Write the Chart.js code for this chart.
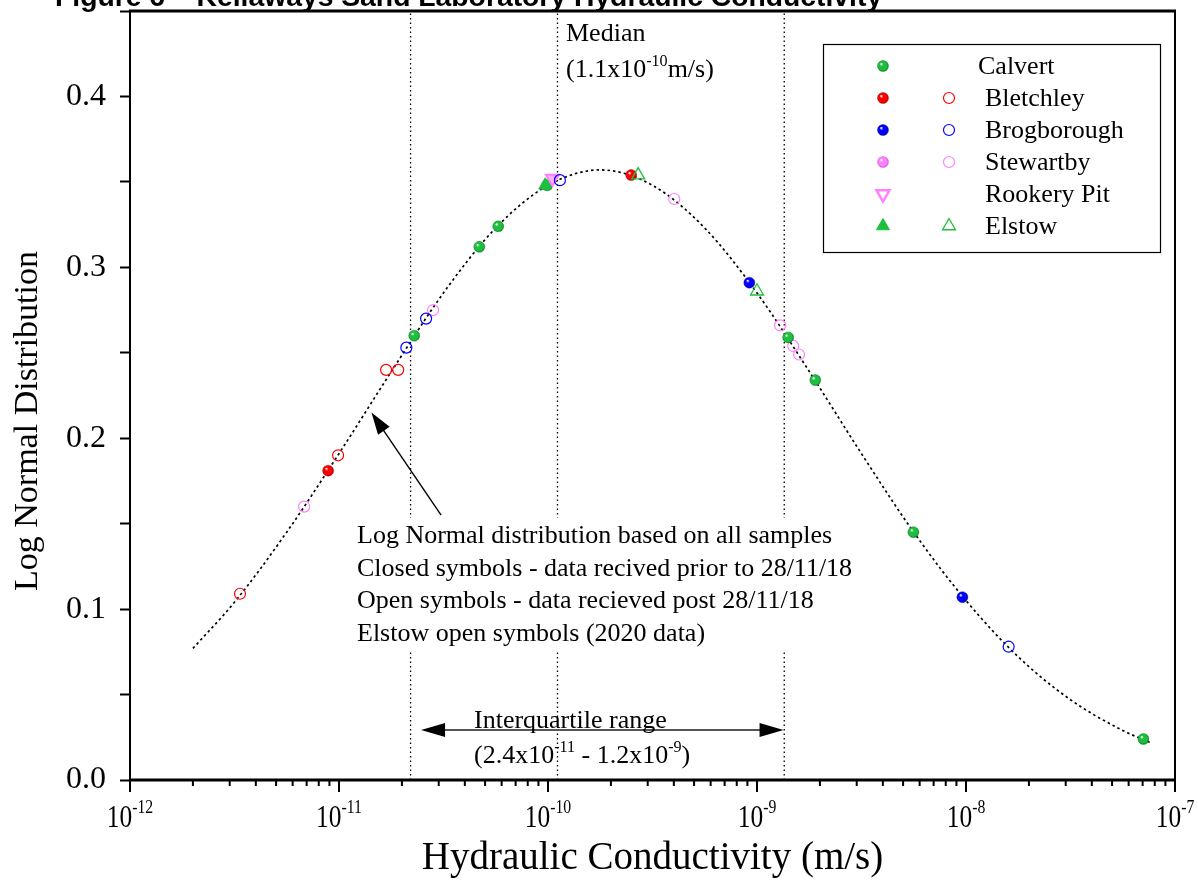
<!DOCTYPE html>
<html>
<head>
<meta charset="utf-8">
<title>Kellaways Sand Laboratory Hydraulic Conductivity</title>
<script src="https://cdn.jsdelivr.net/npm/chart.js@4.4.1/dist/chart.umd.min.js"></script>
<style>
  html, body { margin: 0; padding: 0; background: #fff; }
  #wrap { width: 1198px; height: 881px; }
</style>
</head>
<body>
<div id="wrap"><canvas id="chart" width="1198" height="881"></canvas></div>
<script>
// ---- values ----
var xTickExp   = [-12, -11, -10, -9, -8, -7];
var xMinorMult = [2, 3, 4, 5, 6, 7, 8, 9];
var yTickLabels = ['0.0', '0.1', '0.2', '0.3', '0.4'];
var yMin = 0, yMax = 0.45;

// fitted log normal curve (dotted)
var curveK = [2.0e-12, 3.16e-12, 5.62e-12, 1.0e-11, 1.78e-11, 3.16e-11, 5.62e-11, 1.0e-10, 1.78e-10, 3.16e-10,
              5.62e-10, 1.0e-9, 1.78e-9, 3.16e-9, 5.62e-9, 1.0e-8, 1.78e-8, 3.16e-8, 5.62e-8, 7.6e-8];
var curveP = [0.077, 0.104, 0.145, 0.191, 0.239, 0.285, 0.323, 0.348, 0.357, 0.348,
              0.323, 0.285, 0.239, 0.191, 0.145, 0.105, 0.072, 0.047, 0.029, 0.022];

// quartile / median markers
var quartileK = [2.2e-11, 1.11e-10, 1.35e-9];

// samples (K in m/s, P = log normal value)
var calvertK = [2.29e-11, 4.69e-11, 5.78e-11, 9.9e-11, 1.41e-9, 1.9e-9, 5.6e-9, 7.06e-8];
var calvertP = [0.260, 0.312, 0.324, 0.348, 0.259, 0.234, 0.145, 0.024];
var bletchleyK = [8.87e-12, 2.5e-10];
var bletchleyP = [0.181, 0.354];
var bletchleyOpenK = [3.36e-12, 9.9e-12, 1.68e-11, 1.92e-11];
var bletchleyOpenP = [0.109, 0.190, 0.240, 0.240];
var brogK = [9.19e-10, 9.61e-9];
var brogP = [0.291, 0.107];
var brogOpenK = [2.1e-11, 2.61e-11, 1.14e-10, 1.6e-8];
var brogOpenP = [0.253, 0.270, 0.351, 0.078];
var stewartbyK = [];
var stewartbyP = [];
var stewartbyOpenK = [6.81e-12, 2.82e-11, 4.02e-10, 1.29e-9, 1.49e-9, 1.59e-9];
var stewartbyOpenP = [0.160, 0.275, 0.340, 0.266, 0.254, 0.249];
var rookeryK = [1.05e-10];
var rookeryP = [0.352];
var elstowK = [9.7e-11];
var elstowP = [0.348];
var elstowOpenK = [2.7e-10, 1.0e-9];
var elstowOpenP = [0.354, 0.286];

var legendNames = ['Calvert', 'Bletchley', 'Brogborough', 'Stewartby', 'Rookery Pit', 'Elstow'];
var noteLines = ['Log Normal distribution based on all samples',
                 'Closed symbols - data recived prior to 28/11/18',
                 'Open symbols - data recieved post 28/11/18',
                 'Elstow open symbols (2020 data)'];

// ---- styling ----
var SERIF = '"Liberation Serif", "Times New Roman", Times, serif';
var SANS  = '"Liberation Sans", Arial, sans-serif';
var GREEN = '#1cbf3e', RED = '#ff0000', BLUE = '#0000ff', PINK = '#ff80ff';
var DARK = {};
DARK[GREEN] = '#0b7d25'; DARK[RED] = '#a30000'; DARK[BLUE] = '#00009c'; DARK[PINK] = '#c45ac4';

function pts(K, P) {
    return K.map(function(k, i){ return {x: k, y: P[i]}; });
}

function ball(ctx, px, py, r, color) {
    if (!isFinite(px) || !isFinite(py)) return color;
    var g = ctx.createRadialGradient(px - r*0.35, py - r*0.4, r*0.05, px, py, r);
    g.addColorStop(0, 'rgba(255,255,255,0.95)');
    g.addColorStop(0.3, color);
    g.addColorStop(0.8, color);
    g.addColorStop(1, DARK[color]);
    return g;
}

function sphere(color) {
    return function(c) {
        if (!c.raw || !c.chart.scales.x || !c.chart.chartArea) return color;
        var px = c.chart.scales.x.getPixelForValue(c.raw.x);
        var py = c.chart.scales.y.getPixelForValue(c.raw.y);
        return ball(c.chart.ctx, px, py, 5.5, color);
    };
}

function filledBall(label, K, P, color, order) {
    return { label: label, data: pts(K, P), order: order, showLine: false,
             pointStyle: 'circle', pointRadius: 5.5,
             pointBackgroundColor: sphere(color), pointBorderColor: DARK[color], pointBorderWidth: 0.4 };
}
function openRing(label, K, P, color, order) {
    return { label: label, data: pts(K, P), order: order, showLine: false,
             pointStyle: 'circle', pointRadius: 5.5,
             pointBackgroundColor: 'rgba(255,255,255,0)', pointBorderColor: color, pointBorderWidth: 1.2 };
}
function triangle(label, K, P, fill, stroke, rot, bw, order) {
    return { label: label, data: pts(K, P), order: order, showLine: false,
             pointStyle: 'triangle', pointRadius: 7.5, pointRotation: rot,
             pointBackgroundColor: fill, pointBorderColor: stroke, pointBorderWidth: bw };
}

var datasets = [];
quartileK.forEach(function(q, i) {
    datasets.push({ label: 'quartile' + i, data: [{x: q, y: yMin}, {x: q, y: yMax}], order: 30,
                    showLine: true, borderColor: '#000', borderWidth: 1.3, borderDash: [1.5, 3], pointRadius: 0 });
});
datasets.push({ label: 'Log normal', data: pts(curveK, curveP), order: 20, showLine: true,
                cubicInterpolationMode: 'monotone', borderColor: '#000', borderWidth: 1.7,
                borderDash: [2.5, 3], pointRadius: 0 });
datasets.push(openRing('Stewartby (open)', stewartbyOpenK, stewartbyOpenP, PINK, 9));
datasets.push(openRing('Bletchley (open)', bletchleyOpenK, bletchleyOpenP, RED, 8));
datasets.push(filledBall('Stewartby', stewartbyK, stewartbyP, PINK, 7));
datasets.push(filledBall('Calvert', calvertK, calvertP, GREEN, 6));
datasets.push(filledBall('Bletchley', bletchleyK, bletchleyP, RED, 5));
datasets.push(filledBall('Brogborough', brogK, brogP, BLUE, 4));
datasets.push(triangle('Rookery Pit', rookeryK, rookeryP, '#ffb0ff', PINK, 180, 2, 3));
datasets.push(triangle('Elstow', elstowK, elstowP, GREEN, GREEN, 0, 1, 2));
datasets.push(openRing('Brogborough (open)', brogOpenK, brogOpenP, BLUE, 1));
datasets.push(triangle('Elstow (open)', elstowOpenK, elstowOpenP, 'rgba(255,255,255,0)', GREEN, 0, 1.3, 0));

// legend rows: [filled marker, open marker]
var legendMarks = [
    [{shape: 'circle', color: GREEN, ball: true}, null],
    [{shape: 'circle', color: RED, ball: true}, {shape: 'circle', color: RED}],
    [{shape: 'circle', color: BLUE, ball: true}, {shape: 'circle', color: BLUE}],
    [{shape: 'circle', color: PINK, ball: true}, {shape: 'circle', color: PINK}],
    [{shape: 'triangle', color: PINK, fill: '#ffffff', rot: 180, bw: 2.5}, null],
    [{shape: 'triangle', color: GREEN, fill: GREEN, bw: 1}, {shape: 'triangle', color: GREEN, bw: 1.3}]
];

// ---- drawing helpers ----
function richText(ctx, parts, x, y, size, align, sx, rise) {
    sx = sx || 1; rise = rise || 0.42;
    var sup = size * 0.62, w = 0;
    parts.forEach(function(p) {
        var s = typeof p === 'string';
        ctx.font = (s ? size : sup) + 'px ' + SERIF;
        w += ctx.measureText(s ? p : p.sup).width * sx;
    });
    var cx = align === 'center' ? x - w / 2 : x;
    ctx.textAlign = 'left';
    ctx.textBaseline = 'alphabetic';
    parts.forEach(function(p) {
        var s = typeof p === 'string';
        var t = s ? p : p.sup;
        ctx.font = (s ? size : sup) + 'px ' + SERIF;
        var tw = ctx.measureText(t).width * sx;
        ctx.save();
        ctx.translate(cx, s ? y : y - size * rise);
        ctx.scale(sx, 1);
        ctx.fillText(t, 0, 0);
        ctx.restore();
        cx += tw;
    });
}

function arrowHead(ctx, x0, y0, x1, y1, len, half) {
    var a = Math.atan2(y1 - y0, x1 - x0);
    var bx = x1 - len * Math.cos(a), by = y1 - len * Math.sin(a);
    ctx.beginPath();
    ctx.moveTo(x1, y1);
    ctx.lineTo(bx + half * Math.sin(a), by - half * Math.cos(a));
    ctx.lineTo(bx - half * Math.sin(a), by + half * Math.cos(a));
    ctx.closePath();
    ctx.fill();
}

function marker(ctx, m, x, y) {
    if (!m) return;
    ctx.save();
    ctx.strokeStyle = m.color;
    if (m.ball) {
        ctx.fillStyle = ball(ctx, x, y, 5.5, m.color);
        ctx.strokeStyle = DARK[m.color];
    } else {
        ctx.fillStyle = m.fill || 'rgba(255,255,255,0)';
    }
    var bw = m.ball ? 0.4 : (m.bw || 1.2);
    ctx.lineWidth = bw;
    Chart.helpers.drawPoint(ctx, {pointStyle: m.shape, radius: m.shape === 'triangle' ? 7.5 : 5.5,
                                  rotation: m.rot || 0, borderWidth: bw}, x, y);
    ctx.restore();
}

var overlay = {
    id: 'overlay',
    beforeDraw: function(chart) {
        var ctx = chart.ctx;
        ctx.save();
        ctx.fillStyle = '#fff';
        ctx.fillRect(0, 0, chart.width, chart.height);
        ctx.restore();
    },
    afterDraw: function(chart) {
        var ctx = chart.ctx, a = chart.chartArea, x = chart.scales.x, y = chart.scales.y;
        ctx.save();
        ctx.fillStyle = '#000';
        ctx.strokeStyle = '#000';

        // note block (white background hides the dotted lines)
        ctx.fillStyle = '#fff';
        ctx.fillRect(352, 518, 512, 134);
        ctx.fillStyle = '#000';
        ctx.font = '26px ' + SERIF;
        ctx.textAlign = 'left';
        ctx.textBaseline = 'alphabetic';
        noteLines.forEach(function(t, i) { ctx.fillText(t, 357, 543 + i * 32.5); });

        // pointer arrow to the curve
        var tipX = x.getPixelForValue(1.43e-11), tipY = y.getPixelForValue(0.215);
        var tailX = x.getPixelForValue(3.08e-11), tailY = y.getPixelForValue(0.155);
        ctx.lineWidth = 1.4;
        ctx.beginPath();
        ctx.moveTo(tailX, tailY);
        ctx.lineTo(tipX + (tailX - tipX) * 0.1, tipY + (tailY - tipY) * 0.1);
        ctx.stroke();
        arrowHead(ctx, tailX, tailY, tipX, tipY, 22, 7);

        // median label
        ctx.font = '26px ' + SERIF;
        ctx.fillText('Median', 566, 41);
        richText(ctx, ['(1.1x10', {sup: '-10'}, 'm/s)'], 566, 77, 26);

        // interquartile arrow
        var iqY = y.getPixelForValue(0.0292);
        var iqL = x.getPixelForValue(2.47e-11), iqR = x.getPixelForValue(1.34e-9);
        ctx.strokeStyle = '#555';
        ctx.lineWidth = 2;
        ctx.beginPath();
        ctx.moveTo(iqL + 15, iqY);
        ctx.lineTo(iqR - 15, iqY);
        ctx.stroke();
        ctx.fillStyle = '#000';
        arrowHead(ctx, iqR, iqY, iqL, iqY, 24, 7);
        arrowHead(ctx, iqL, iqY, iqR, iqY, 24, 7);
        ctx.font = '26px ' + SERIF;
        ctx.fillText('Interquartile range', 474, 728);
        richText(ctx, ['(2.4x10', {sup: '-11'}, ' - 1.2x10', {sup: '-9'}, ')'], 474, 763, 26);

        // frame
        ctx.strokeStyle = '#000';
        ctx.lineWidth = 2;
        ctx.strokeRect(a.left, a.top, a.right - a.left, a.bottom - a.top);
        ctx.lineWidth = 3;
        ctx.beginPath();
        ctx.moveTo(a.left - 1, a.top); ctx.lineTo(a.right + 1, a.top);
        ctx.moveTo(a.left - 1, a.bottom); ctx.lineTo(a.right + 1, a.bottom);
        ctx.stroke();

        // x ticks (major long, minor short) and labels
        ctx.lineWidth = 2;
        ctx.beginPath();
        xTickExp.forEach(function(e, i) {
            var px = x.getPixelForValue(Math.pow(10, e));
            ctx.moveTo(px, a.bottom); ctx.lineTo(px, a.bottom + 12);
            if (i < xTickExp.length - 1) {
                xMinorMult.forEach(function(m) {
                    var mx = x.getPixelForValue(m * Math.pow(10, e));
                    ctx.moveTo(mx, a.bottom); ctx.lineTo(mx, a.bottom + 6);
                });
            }
        });
        ctx.stroke();
        ctx.fillStyle = '#000';
        xTickExp.forEach(function(e) {
            var px = x.getPixelForValue(Math.pow(10, e));
            richText(ctx, ['10', {sup: String(e)}], px, 827, 31, 'center', 0.82, 0.45);
        });

        // y axis title
        ctx.save();
        ctx.translate(28, 421);
        ctx.rotate(-Math.PI / 2);
        ctx.font = '34px ' + SERIF;
        ctx.textAlign = 'center';
        ctx.textBaseline = 'middle';
        ctx.fillText('Log Normal Distribution', 0, 0);
        ctx.restore();

        // legend
        ctx.fillStyle = '#fff';
        ctx.fillRect(823, 44, 337, 208);
        ctx.strokeStyle = '#000';
        ctx.lineWidth = 1.2;
        ctx.strokeRect(823.5, 44.5, 337, 208);
        legendNames.forEach(function(name, i) {
            var ry = 66 + i * 32;
            marker(ctx, legendMarks[i][0], 883, ry);
            marker(ctx, legendMarks[i][1], 949, ry);
            ctx.fillStyle = '#000';
            ctx.font = '26px ' + SERIF;
            ctx.textAlign = 'left';
            ctx.textBaseline = 'middle';
            ctx.fillText(name, i === 0 ? 978 : 985, ry + 1);
        });

        // figure title, cut by the top edge as in the source
        ctx.fillStyle = '#000';
        ctx.font = 'bold 28.3px ' + SANS;
        ctx.textAlign = 'left';
        ctx.textBaseline = 'alphabetic';
        ctx.fillText('Figure 6 \u2013 Kellaways Sand Laboratory Hydraulic Conductivity', 55, 6);
        ctx.restore();
    }
};

new Chart(document.getElementById('chart'), {
    type: 'scatter',
    data: { datasets: datasets },
    options: {
        responsive: false,
        animation: false,
        devicePixelRatio: 1,
        events: [],
        layout: { padding: { top: 11, right: 23, left: 0, bottom: 0 } },
        plugins: { legend: { display: false }, tooltip: { enabled: false } },
        scales: {
            x: {
                type: 'logarithmic', min: 1e-12, max: 1e-7,
                grid: { display: false, drawTicks: false },
                border: { display: false },
                ticks: { display: false },
                title: { display: true, text: 'Hydraulic Conductivity (m/s)', color: '#000',
                         font: { family: SERIF, size: 39, lineHeight: 1.1 }, padding: { top: 0, bottom: 1 } },
                afterFit: function(s) { s.height = 101; s.paddingLeft = 0; s.paddingRight = 0; }
            },
            y: {
                min: yMin, max: yMax,
                grid: { drawOnChartArea: false, drawTicks: true, tickLength: 10, tickColor: '#000', tickWidth: 2 },
                border: { display: false },
                ticks: {
                    stepSize: 0.05, color: '#000', padding: 14,
                    font: { family: SERIF, size: 32 },
                    callback: function(v) {
                        var k = Math.round(v * 10);
                        return Math.abs(v * 10 - k) < 1e-6 && yTickLabels[k] ? yTickLabels[k] : '';
                    }
                },
                afterFit: function(s) { s.width = 130; s.paddingTop = 0; s.paddingBottom = 0; }
            }
        }
    },
    plugins: [overlay]
});
</script>
</body>
</html>
